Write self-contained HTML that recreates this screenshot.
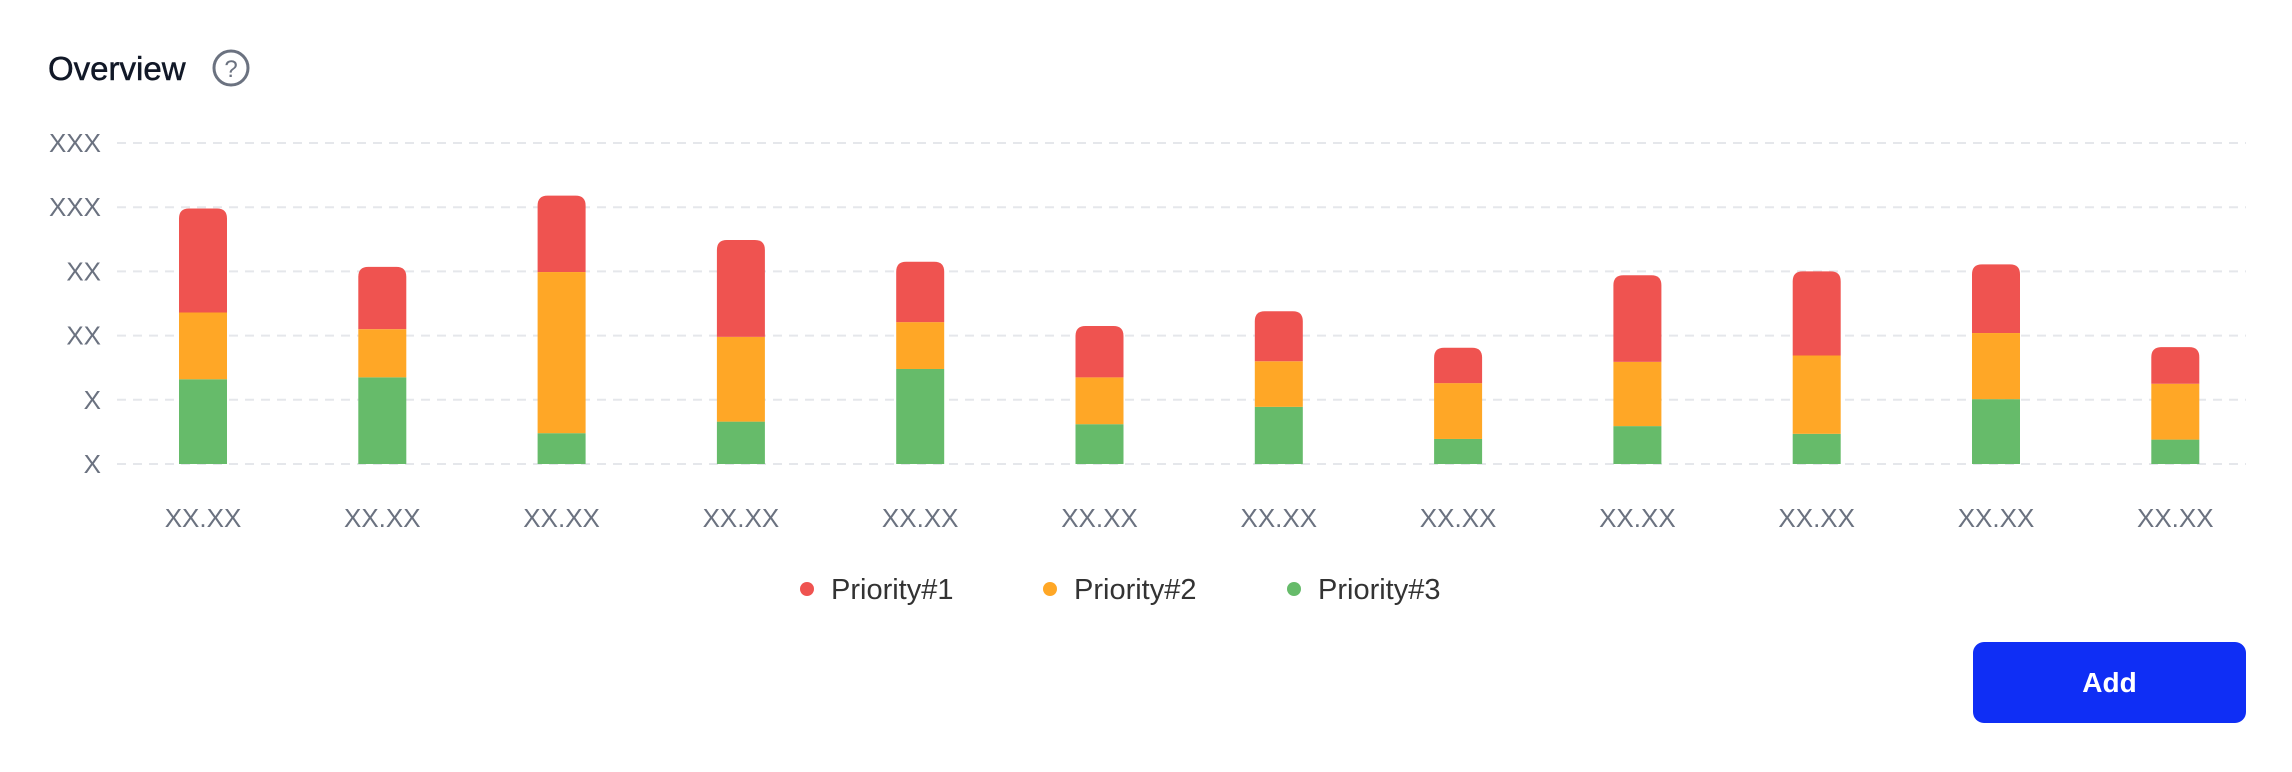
<!DOCTYPE html>
<html><head><meta charset="utf-8"><style>
html,body{margin:0;padding:0;background:#fff;width:2292px;height:772px;overflow:hidden;font-family:"Liberation Sans",sans-serif}
svg{position:absolute;left:0;top:0}
</style></head><body>
<svg width="2292" height="772" id="chart">
  <text x="48" y="80" font-size="33" fill="#111827" stroke="#111827" stroke-width="0.5">Overview</text>
  <g>
    <circle cx="231" cy="68" r="17" fill="none" stroke="#6b7280" stroke-width="3"/>
    <text x="231" y="77" font-size="24" fill="#6b7280" text-anchor="middle">?</text>
  </g>
  <g id="grid"></g>
  <g id="bars"></g>
  <g id="xlabels"></g>
  <g id="legend"></g>
  <g>
    <rect x="1973" y="642" width="273" height="81" rx="11" fill="#0f2ef5"/>
    <text x="2109.5" y="692" font-size="28" font-weight="bold" fill="#fff" text-anchor="middle">Add</text>
  </g>
</svg>
<script>
const categories = ["XX.XX","XX.XX","XX.XX","XX.XX","XX.XX","XX.XX","XX.XX","XX.XX","XX.XX","XX.XX","XX.XX","XX.XX"];
const priority3 = [1.32,1.35,0.48,0.66,1.48,0.62,0.89,0.39,0.59,0.47,1.01,0.38];
const priority2 = [1.04,0.75,2.51,1.32,0.73,0.73,0.71,0.87,1.00,1.22,1.03,0.87];
const priority1 = [1.62,0.97,1.19,1.51,0.94,0.80,0.78,0.55,1.35,1.31,1.07,0.57];
const yTicks = [0,1,2,3,4,5];
const yTickLabels = ["X","X","XX","XX","XXX","XXX"];
const seriesNames = ["Priority#1","Priority#2","Priority#3"];

const NS="http://www.w3.org/2000/svg";
const base=464, step=64.2, x0=203, dx=179.3, bw=48;
const y=v=>base-v*step;
const xc=i=>x0+i*dx;
function mk(t,a,p){const e=document.createElementNS(NS,t);for(const k in a)e.setAttribute(k,a[k]);p.appendChild(e);return e;}
const grid=document.getElementById('grid');
yTicks.forEach((t,i)=>{
  const l=mk('line',{x1:117,x2:2246,y1:y(t),y2:y(t),stroke:'#e5e7eb','stroke-width':2,'stroke-dasharray':'9 7'},grid);
  
  
  const tx=mk('text',{x:101,y:y(t)+9,'font-size':26,fill:'#6b7280','text-anchor':'end'},grid);
  tx.textContent=yTickLabels[i];
  
  
});
const bars=document.getElementById('bars');
const colors=["#ef5350","#ffa726","#66bb6a"];
categories.forEach((c,i)=>{
  const cx=xc(i), left=cx-bw/2;
  const g3=priority3[i], g2=priority2[i], g1=priority1[i];
  const r3=mk('rect',{x:left,y:y(g3),width:bw,height:base-y(g3),fill:colors[2]},bars);
  
  
  const r2=mk('rect',{x:left,y:y(g3+g2),width:bw,height:y(g3)-y(g3+g2),fill:colors[1]},bars);
  
  
  const top=y(g3+g2+g1), bot=y(g3+g2), r=10;
  const p=mk('path',{d:`M${left},${bot} V${top+r} Q${left},${top} ${left+r},${top} H${left+bw-r} Q${left+bw},${top} ${left+bw},${top+r} V${bot} Z`,fill:colors[0]},bars);
  
  
  const t=mk('text',{x:cx,y:527,'font-size':26,fill:'#6b7280','text-anchor':'middle'},document.getElementById('xlabels'));
  t.textContent=c;
  
  
});
const lg=document.getElementById('legend');
const lx=[807,1050,1294];
seriesNames.forEach((n,i)=>{
  const g=mk('g',{},lg);
  
  
  mk('circle',{cx:lx[i],cy:589,r:7,fill:colors[i]},g);
  const t=mk('text',{x:lx[i]+24,y:599,'font-size':29,fill:'#333'},g);
  t.textContent=n;
});
</script>
</body></html>
